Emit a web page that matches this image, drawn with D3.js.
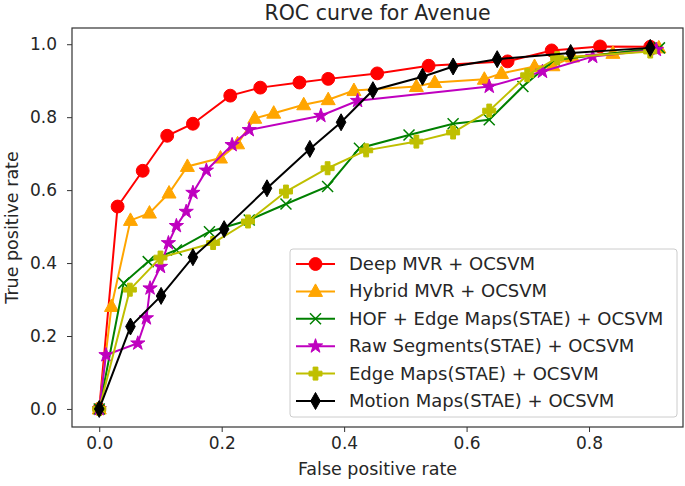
<!DOCTYPE html>
<html><head><meta charset="utf-8">
<script src="https://cdn.jsdelivr.net/npm/d3@7"></script>
<style>body{margin:0;background:#fff}svg{display:block}text{font-family:"DejaVu Sans",sans-serif;fill:#262626}</style>
</head><body><div id="chart"></div>
<script>
const seriesNames = ["Deep MVR + OCSVM","Hybrid MVR + OCSVM","HOF + Edge Maps(STAE) + OCSVM","Raw Segments(STAE) + OCSVM","Edge Maps(STAE) + OCSVM","Motion Maps(STAE) + OCSVM"];
const seriesColors = ["#ff0000","#ffa500","#008000","#bf00bf","#bfbf00","#000000"];
const seriesMarkers = ["circle","triangle","x","star","plus","diamond"];
const deepFPR = [0,0.03,0.071,0.111,0.153,0.214,0.263,0.327,0.374,0.454,0.538,0.667,0.739,0.818,0.9];
const deepTPR = [0,0.555,0.653,0.749,0.782,0.859,0.881,0.895,0.905,0.92,0.941,0.953,0.983,0.994,0.993];
const hybridFPR = [0,0.02,0.051,0.082,0.114,0.144,0.198,0.226,0.254,0.285,0.334,0.374,0.416,0.518,0.548,0.629,0.657,0.711,0.741,0.773,0.839,0.914];
const hybridTPR = [0,0.281,0.517,0.537,0.592,0.665,0.688,0.727,0.797,0.811,0.834,0.848,0.873,0.884,0.895,0.904,0.92,0.939,0.941,0.965,0.975,0.99];
const hofFPR = [0,0.04,0.08,0.126,0.18,0.245,0.305,0.373,0.425,0.506,0.578,0.637,0.692,0.743,0.915];
const hofTPR = [0,0.345,0.404,0.436,0.486,0.518,0.562,0.61,0.715,0.751,0.782,0.793,0.884,0.957,0.99];
const rawFPR = [0,0.011,0.063,0.077,0.083,0.1,0.113,0.126,0.142,0.153,0.175,0.217,0.245,0.362,0.422,0.637,0.724,0.806,0.91];
const rawTPR = [0,0.148,0.18,0.249,0.331,0.39,0.455,0.502,0.541,0.593,0.654,0.724,0.765,0.804,0.845,0.884,0.925,0.966,0.985];
const edgeFPR = [0,0.05,0.1,0.186,0.243,0.305,0.373,0.436,0.518,0.578,0.637,0.699,0.748,0.9];
const edgeTPR = [0,0.327,0.415,0.455,0.514,0.596,0.66,0.709,0.733,0.758,0.818,0.915,0.962,0.98];
const motionFPR = [0,0.051,0.101,0.153,0.204,0.274,0.344,0.395,0.447,0.528,0.578,0.65,0.77,0.9];
const motionTPR = [0,0.226,0.31,0.416,0.493,0.605,0.713,0.786,0.874,0.911,0.939,0.959,0.976,0.99];
const xTicks = [0,0.2,0.4,0.6,0.8];
const yTicks = [0,0.2,0.4,0.6,0.8,1.0];

const series = [[deepFPR,deepTPR],[hybridFPR,hybridTPR],[hofFPR,hofTPR],[rawFPR,rawTPR],[edgeFPR,edgeTPR],[motionFPR,motionTPR]]
  .map((s,i)=>({name:seriesNames[i],color:seriesColors[i],marker:seriesMarkers[i],pts:s[0].map((x,j)=>[x,s[1][j]])}));

const W=685,H=486, L=72,R=683,T=28,B=427;
const svg=d3.select("#chart").append("svg").attr("width",W).attr("height",H);
const x=d3.scaleLinear().domain([-0.0445,0.9535]).range([L,R]);
const y=d3.scaleLinear().domain([-0.0495,1.0445]).range([B,T]);

function starPath(ro,ri){
  let p="";
  for(let k=0;k<10;k++){const r=k%2?ri:ro;const a=-Math.PI/2+k*Math.PI/5;p+=(k?"L":"M")+(r*Math.cos(a)).toFixed(2)+","+(r*Math.sin(a)).toFixed(2);}
  return p+"Z";
}
function markerPath(m){
  switch(m){
    case "circle": return d3.symbol(d3.symbolCircle,130)();
    case "triangle": return "M0,-7.5L7,5L-7,5Z";
    case "x": return "M-5.5,-5.5L5.5,5.5M-5.5,5.5L5.5,-5.5";
    case "star": return starPath(7.5,2.9);
    case "plus": {const a=2.4,b=6.5;return `M${-a},${-b}H${a}V${-a}H${b}V${a}H${a}V${b}H${-a}V${a}H${-b}V${-a}H${-a}Z`;}
    case "diamond": return "M0,-8.5L4.8,0L0,8.5L-4.8,0Z";
  }
}

svg.append("defs").append("clipPath").attr("id","clip").append("rect").attr("x",L).attr("y",T).attr("width",R-L).attr("height",B-T);
const plot=svg.append("g").attr("clip-path","url(#clip)");
const line=d3.line().x(d=>x(d[0])).y(d=>y(d[1]));
series.forEach(s=>{
  const g=plot.append("g");
  g.append("path").attr("d",line(s.pts)).attr("fill","none").attr("stroke",s.color).attr("stroke-width",2);
  g.selectAll("path.m").data(s.pts).enter().append("path").attr("class","m")
    .attr("transform",d=>`translate(${x(d[0])},${y(d[1])})`)
    .attr("d",markerPath(s.marker))
    .attr("fill",s.marker==="x"?"none":s.color)
    .attr("stroke",s.color).attr("stroke-width",s.marker==="x"?1.5:1);
});

// axes
const xa=svg.append("g").attr("transform",`translate(0,${B})`).call(d3.axisBottom(x).tickValues(xTicks).tickFormat(d3.format(".1f")).tickSize(5).tickPadding(5));
const ya=svg.append("g").attr("transform",`translate(${L},0)`).call(d3.axisLeft(y).tickValues(yTicks).tickFormat(d3.format(".1f")).tickSize(5).tickPadding(10));
[xa,ya].forEach(a=>{a.select(".domain").remove();a.selectAll("text").style("font-size","17px").attr("fill","#262626").style("font-family","DejaVu Sans");a.selectAll("line").attr("stroke","#333");});
svg.append("rect").attr("x",L).attr("y",T).attr("width",R-L).attr("height",B-T).attr("fill","none").attr("stroke","#333").attr("stroke-width",1.2);

svg.append("text").attr("x",(L+R)/2).attr("y",20).attr("text-anchor","middle").style("font-size","20.5px").text("ROC curve for Avenue");
svg.append("text").attr("x",(L+R)/2).attr("y",475).attr("text-anchor","middle").style("font-size","17.5px").text("False positive rate");
svg.append("text").attr("transform",`translate(18,${(T+B)/2}) rotate(-90)`).attr("text-anchor","middle").style("font-size","17.5px").text("True positive rate");

// legend
const lg=svg.append("g");
lg.append("rect").attr("x",290).attr("y",249).attr("width",387).attr("height",168).attr("rx",3).attr("fill","#fff").attr("fill-opacity",0.85).attr("stroke","#ccc");
series.forEach((s,i)=>{
  const yy=264+i*27.4;
  lg.append("line").attr("x1",296).attr("x2",335).attr("y1",yy).attr("y2",yy).attr("stroke",s.color).attr("stroke-width",2);
  lg.append("path").attr("transform",`translate(315.5,${yy})`).attr("d",markerPath(s.marker))
    .attr("fill",s.marker==="x"?"none":s.color).attr("stroke",s.color).attr("stroke-width",s.marker==="x"?1.5:1);
  lg.append("text").attr("x",349).attr("y",yy+6).style("font-size","18px").text(s.name);
});
</script></body></html>
